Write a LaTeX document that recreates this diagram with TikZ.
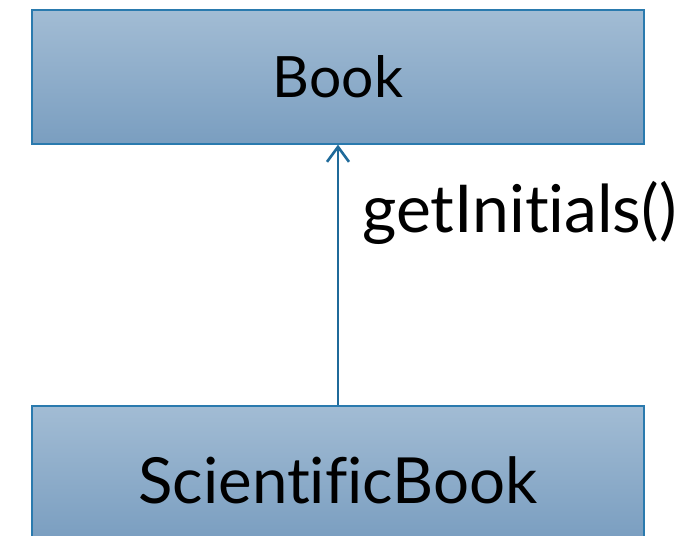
\documentclass[tikz,border=0pt]{standalone}
\usepackage{fontspec}
\setmainfont[Ligatures=CommonOff]{Lato}
\usetikzlibrary{arrows.meta}
\definecolor{boxtop}{HTML}{A2BCD4}
\definecolor{boxbot}{HTML}{7A9EC0}
\definecolor{boxline}{HTML}{2A7AAE}
\definecolor{linkcol}{HTML}{1F6A9A}
\begin{document}
\begin{tikzpicture}[x=1pt,y=-1pt,
  classbox/.style={draw=boxline, line width=1.3pt, top color=boxtop, bottom color=boxbot,
    minimum width=612pt, minimum height=134pt, inner sep=0pt, text=black, text depth=0pt},
  link/.style={draw=linkcol, line width=2.6pt, -{Straight Barb[length=15pt,width=22pt,line width=2.6pt]}}]
  \useasboundingbox (0,0) rectangle (689,536);
  \begin{scope}
    \clip (0,0) rectangle (689,536);
    \node[classbox, text height=40pt, font=\fontsize{57}{62}\selectfont] (book) at (338,77) {Book};
    \node[classbox, text height=60pt, font=\fontsize{63.6}{70}\selectfont] (sci) at (338,473) {ScientificBook};
  \end{scope}
  \draw[link] (sci.north) -- (book.south);
  \node[anchor=base west, inner sep=0pt, font=\fontsize{66}{72}\selectfont] (lbl) at (362,232) {getInitials()};
\end{tikzpicture}
\end{document}
